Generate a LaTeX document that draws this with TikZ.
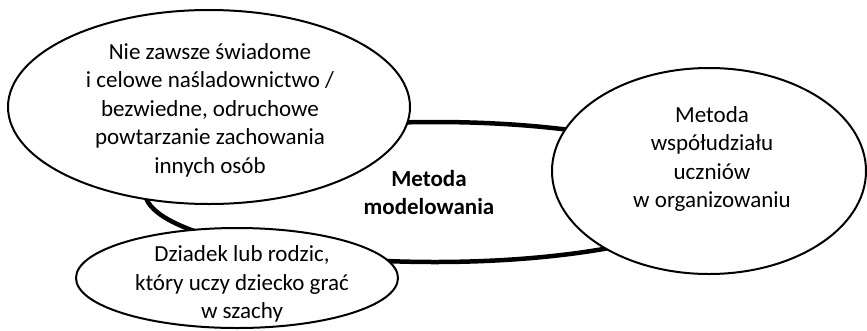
\documentclass[tikz,border=0pt]{standalone}
\usepackage{fontspec}
\setmainfont{Carlito}
\usetikzlibrary{shapes.geometric,positioning}

\tikzset{
  core/.style={ellipse, draw, line width=4.5pt, inner sep=0pt},
  bubble/.style={ellipse, draw, fill=white, line width=2pt, inner sep=0pt},
  caption/.style={align=center, font=\fontsize{23}{28.5}\selectfont},
}

\begin{document}
\begin{tikzpicture}[x=1pt, y=-1pt]
\useasboundingbox (0,0) rectangle (867,330);

            % central method
            \node [core, minimum width=580pt, minimum height=140pt] (core) at (435,192) {};
            \node [caption, font=\bfseries\fontsize{23}{28}\selectfont] (core-text) at (429,193) {Metoda\\modelowania};

            % bubbles round it
            \foreach \m/\x/\y/\w/\h in {imitate/209/107/402/194, share/709/171/314/206, chess/237/278/322/100}
                \node [bubble, minimum width=\w pt, minimum height=\h pt] (bubble-\m) at (\x,\y) {};

            % bubble texts
            \node [caption] (imitate-text) at (210,110) {Nie zawsze świadome\\i celowe naśladownictwo /\\bezwiedne, odruchowe\\powtarzanie zachowania\\innych osób};
            \node [caption] (share-text) at (712,159) {Metoda\\współudziału\\uczniów\\w organizowaniu};
            \node [caption] (chess-text) at (242,284) {Dziadek lub rodzic,\\który uczy dziecko grać\\w szachy};

\end{tikzpicture}
\end{document}
